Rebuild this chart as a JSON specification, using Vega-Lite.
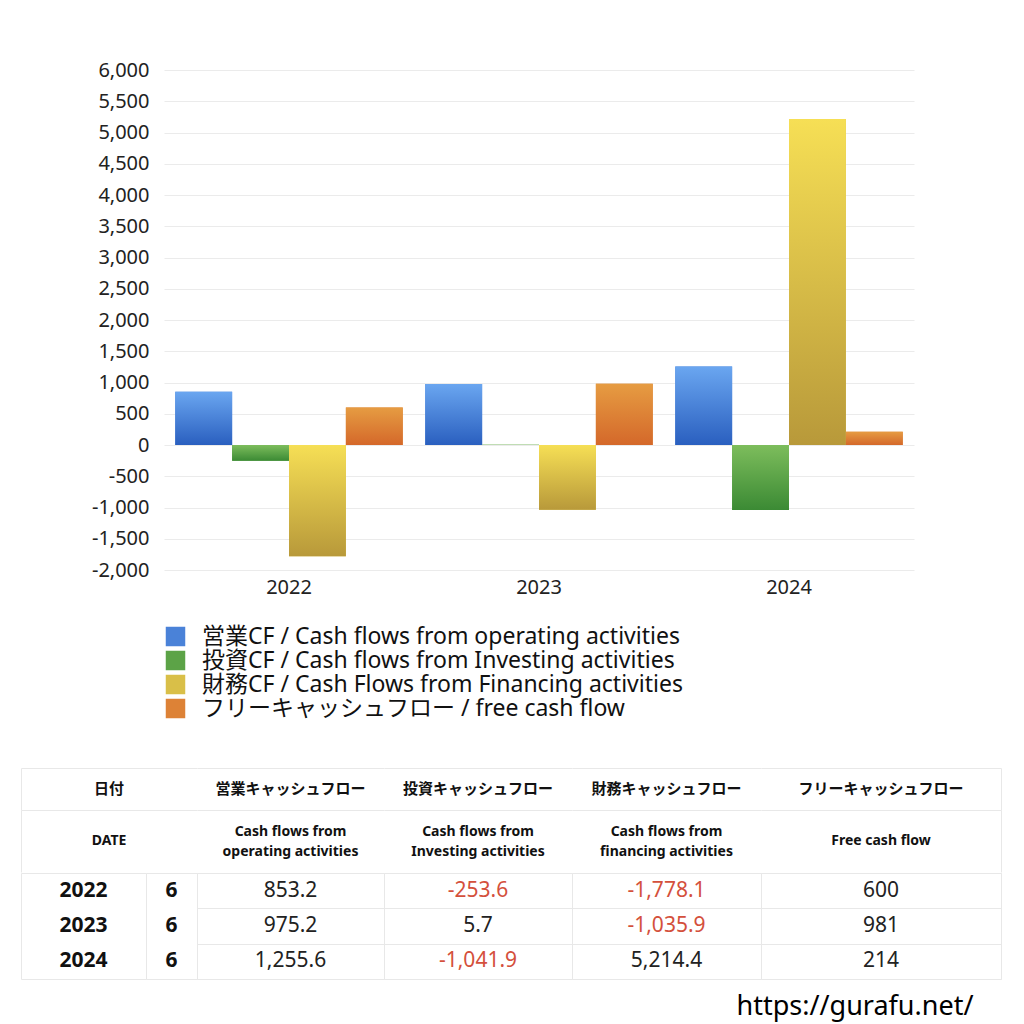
{
  "$schema": "https://vega.github.io/schema/vega-lite/v6.json",
  "padding": {"left": 20, "top": 60, "right": 20, "bottom": 10},
  "config": {
    "font": "Noto Sans, Noto Sans CJK JP",
    "view": {"stroke": null},
    "locale": {"number": {"decimal": ".", "thousands": ",", "grouping": [3], "currency": ["$", ""], "minus": "-"}}
  },
  "resolve": {"scale": {"color": "independent"}, "legend": {"color": "independent"}},
  "datasets": {
    "cf": [
      {"year": "2022", "month": 6, "key": "op", "series": "営業CF / Cash flows from operating activities", "value": 853.2},
      {"year": "2022", "month": 6, "key": "inv", "series": "投資CF / Cash flows from Investing activities", "value": -253.6},
      {"year": "2022", "month": 6, "key": "fin", "series": "財務CF / Cash Flows from Financing activities", "value": -1778.1},
      {"year": "2022", "month": 6, "key": "free", "series": "フリーキャッシュフロー / free cash flow", "value": 600},
      {"year": "2023", "month": 6, "key": "op", "series": "営業CF / Cash flows from operating activities", "value": 975.2},
      {"year": "2023", "month": 6, "key": "inv", "series": "投資CF / Cash flows from Investing activities", "value": 5.7},
      {"year": "2023", "month": 6, "key": "fin", "series": "財務CF / Cash Flows from Financing activities", "value": -1035.9},
      {"year": "2023", "month": 6, "key": "free", "series": "フリーキャッシュフロー / free cash flow", "value": 981},
      {"year": "2024", "month": 6, "key": "op", "series": "営業CF / Cash flows from operating activities", "value": 1255.6},
      {"year": "2024", "month": 6, "key": "inv", "series": "投資CF / Cash flows from Investing activities", "value": -1041.9},
      {"year": "2024", "month": 6, "key": "fin", "series": "財務CF / Cash Flows from Financing activities", "value": 5214.4},
      {"year": "2024", "month": 6, "key": "free", "series": "フリーキャッシュフロー / free cash flow", "value": 214}
    ],
    "hdr": [
      {"key": "date", "jp": "日付", "en": "DATE"},
      {"key": "op", "jp": "営業キャッシュフロー", "en": "Cash flows from\noperating activities"},
      {"key": "inv", "jp": "投資キャッシュフロー", "en": "Cash flows from\nInvesting activities"},
      {"key": "fin", "jp": "財務キャッシュフロー", "en": "Cash flows from\nfinancing activities"},
      {"key": "free", "jp": "フリーキャッシュフロー", "en": "Free cash flow"}
    ]
  },
  "title": {"text": "https://gurafu.net/", "orient": "bottom", "anchor": "end", "fontSize": 27, "fontWeight": "normal", "color": "#000", "offset": 14, "dx": -28},
  "spacing": 47,
  "vconcat": [
    {
      "spacing": 0,
      "resolve": {"scale": {"color": "independent"}, "legend": {"color": "independent"}},
      "hconcat": [
        {"width": 1, "height": 1, "data": {"values": []}, "mark": {"type": "point", "opacity": 0}},
        {
          "width": 750,
          "height": 500,
          "data": {"name": "cf"},
          "encoding": {
            "x": {"field": "year", "type": "nominal", "scale": {"paddingInner": 0.09, "paddingOuter": 0.045},
                  "axis": {"title": null, "labelAngle": 0, "domain": false, "ticks": false, "labelPadding": 7, "labelFontSize": 20, "labelColor": "#222"}},
            "xOffset": {"field": "series", "type": "nominal", "scale": {"paddingInner": 0, "paddingOuter": 0,
                  "domain": ["営業CF / Cash flows from operating activities", "投資CF / Cash flows from Investing activities", "財務CF / Cash Flows from Financing activities", "フリーキャッシュフロー / free cash flow"]}},
            "y": {"field": "value", "type": "quantitative", "scale": {"domain": [-2000, 6000], "nice": false},
                  "axis": {"title": null, "values": [-2000, -1500, -1000, -500, 0, 500, 1000, 1500, 2000, 2500, 3000, 3500, 4000, 4500, 5000, 5500, 6000],
                           "format": ",d", "domain": false, "ticks": false, "labelPadding": 15, "labelFontSize": 20, "labelColor": "#222",
                           "gridColor": "#ebebeb", "minExtent": 142, "maxExtent": 142}}
          },
          "layer": [
            {
              "mark": {"type": "bar"},
              "encoding": {
                "color": {"field": "series", "type": "nominal",
                  "scale": {
                    "domain": ["営業CF / Cash flows from operating activities", "投資CF / Cash flows from Investing activities", "財務CF / Cash Flows from Financing activities", "フリーキャッシュフロー / free cash flow"],
                    "range": ["#4a82d8", "#5ca347", "#d9bf48", "#dd8236"]
                  },
                  "legend": {"title": null, "orient": "bottom", "direction": "vertical", "symbolType": "square", "symbolSize": 380, "symbolStrokeWidth": 0,
                             "labelFontSize": 23, "labelColor": "#111", "labelLimit": 800, "labelOffset": 15, "rowPadding": 0, "offset": 28,
                             "encode": {"symbols": {"update": {"fill": [
                               {"test": "datum.value === '営業CF / Cash flows from operating activities'", "value": {"gradient": "linear", "x1": 0, "y1": 0, "x2": 0, "y2": 1, "stops": [{"offset": 0, "color": "#6aa6f0"}, {"offset": 1, "color": "#2a5fbf"}]}},
                               {"test": "datum.value === '投資CF / Cash flows from Investing activities'", "value": {"gradient": "linear", "x1": 0, "y1": 0, "x2": 0, "y2": 1, "stops": [{"offset": 0, "color": "#7dbd5c"}, {"offset": 1, "color": "#3b8a34"}]}},
                               {"test": "datum.value === '財務CF / Cash Flows from Financing activities'", "value": {"gradient": "linear", "x1": 0, "y1": 0, "x2": 0, "y2": 1, "stops": [{"offset": 0, "color": "#f6df55"}, {"offset": 1, "color": "#b8993a"}]}},
                               {"value": {"gradient": "linear", "x1": 0, "y1": 0, "x2": 0, "y2": 1, "stops": [{"offset": 0, "color": "#e69c42"}, {"offset": 1, "color": "#d4682a"}]}}
                             ]}}}}}
              }
            },
            {
              "transform": [{"filter": "datum.key == 'op'"}],
              "mark": {"type": "bar", "color": {"gradient": "linear", "x1": 0, "y1": 0, "x2": 0, "y2": 1, "stops": [{"offset": 0, "color": "#6aa6f0"}, {"offset": 1, "color": "#2a5fbf"}]}}
            },
            {
              "transform": [{"filter": "datum.key == 'inv'"}],
              "mark": {"type": "bar", "color": {"gradient": "linear", "x1": 0, "y1": 0, "x2": 0, "y2": 1, "stops": [{"offset": 0, "color": "#7dbd5c"}, {"offset": 1, "color": "#3b8a34"}]}}
            },
            {
              "transform": [{"filter": "datum.key == 'fin'"}],
              "mark": {"type": "bar", "color": {"gradient": "linear", "x1": 0, "y1": 0, "x2": 0, "y2": 1, "stops": [{"offset": 0, "color": "#f6df55"}, {"offset": 1, "color": "#b8993a"}]}}
            },
            {
              "transform": [{"filter": "datum.key == 'free'"}],
              "mark": {"type": "bar", "color": {"gradient": "linear", "x1": 0, "y1": 0, "x2": 0, "y2": 1, "stops": [{"offset": 0, "color": "#e69c42"}, {"offset": 1, "color": "#d4682a"}]}}
            }
          ]
        }
      ]
    },
    {
      "spacing": 0,
      "vconcat": [
        {
          "spacing": 0,
          "bounds": "flush",
          "hconcat": [
            {"width": 176, "height": 42, "view": {"stroke": null}, "data": {"name": "hdr"}, "transform": [{"filter": "datum.key == 'date'"}],
             "mark": {"type": "text", "fontSize": 15, "fontWeight": "bold", "color": "#111"},
             "encoding": {"text": {"field": "jp"},
               "x": {"field": "key", "type": "nominal", "axis": {"orient": "top", "title": null, "labels": false, "ticks": false, "grid": false, "domainColor": "#e8e8e8"}},
               "y": {"field": "key", "type": "nominal", "axis": {"orient": "left", "title": null, "labels": false, "ticks": false, "grid": false, "domainColor": "#e8e8e8", "minExtent": 0}}}},
            {"width": 187, "height": 42, "view": {"stroke": null}, "data": {"name": "hdr"}, "transform": [{"filter": "datum.key == 'op'"}],
             "mark": {"type": "text", "fontSize": 15, "fontWeight": "bold", "color": "#111"},
             "encoding": {"text": {"field": "jp"},
               "x": {"field": "key", "type": "nominal", "axis": {"orient": "top", "title": null, "labels": false, "ticks": false, "grid": false, "domainColor": "#e8e8e8"}}}},
            {"width": 188, "height": 42, "view": {"stroke": null}, "data": {"name": "hdr"}, "transform": [{"filter": "datum.key == 'inv'"}],
             "mark": {"type": "text", "fontSize": 15, "fontWeight": "bold", "color": "#111"},
             "encoding": {"text": {"field": "jp"},
               "x": {"field": "key", "type": "nominal", "axis": {"orient": "top", "title": null, "labels": false, "ticks": false, "grid": false, "domainColor": "#e8e8e8"}}}},
            {"width": 189, "height": 42, "view": {"stroke": null}, "data": {"name": "hdr"}, "transform": [{"filter": "datum.key == 'fin'"}],
             "mark": {"type": "text", "fontSize": 15, "fontWeight": "bold", "color": "#111"},
             "encoding": {"text": {"field": "jp"},
               "x": {"field": "key", "type": "nominal", "axis": {"orient": "top", "title": null, "labels": false, "ticks": false, "grid": false, "domainColor": "#e8e8e8"}}}},
            {"width": 240, "height": 42, "view": {"stroke": null}, "data": {"name": "hdr"}, "transform": [{"filter": "datum.key == 'free'"}],
             "mark": {"type": "text", "fontSize": 15, "fontWeight": "bold", "color": "#111"},
             "encoding": {"text": {"field": "jp"},
               "x": {"field": "key", "type": "nominal", "axis": {"orient": "top", "title": null, "labels": false, "ticks": false, "grid": false, "domainColor": "#e8e8e8"}},
               "y": {"field": "key", "type": "nominal", "axis": {"orient": "right", "title": null, "labels": false, "ticks": false, "grid": false, "domainColor": "#e8e8e8", "minExtent": 0}}}}
          ]
        },
        {
          "spacing": 0,
          "bounds": "flush",
          "hconcat": [
            {"width": 176, "height": 62, "view": {"stroke": null}, "data": {"name": "hdr"}, "transform": [{"filter": "datum.key == 'date'"}],
             "mark": {"type": "text", "fontSize": 14, "fontWeight": "bold", "color": "#111", "lineBreak": "\n", "lineHeight": 20},
             "encoding": {"text": {"field": "en"},
               "x": {"field": "key", "type": "nominal", "axis": {"orient": "top", "title": null, "labels": false, "ticks": false, "grid": false, "domainColor": "#e8e8e8"}},
               "y": {"field": "key", "type": "nominal", "axis": {"orient": "left", "title": null, "labels": false, "ticks": false, "grid": false, "domainColor": "#e8e8e8", "minExtent": 0}}}},
            {"width": 187, "height": 62, "view": {"stroke": null}, "data": {"name": "hdr"}, "transform": [{"filter": "datum.key == 'op'"}],
             "mark": {"type": "text", "fontSize": 14, "fontWeight": "bold", "color": "#111", "lineBreak": "\n", "lineHeight": 20, "dy": -9},
             "encoding": {"text": {"field": "en"},
               "x": {"field": "key", "type": "nominal", "axis": {"orient": "top", "title": null, "labels": false, "ticks": false, "grid": false, "domainColor": "#e8e8e8"}}}},
            {"width": 188, "height": 62, "view": {"stroke": null}, "data": {"name": "hdr"}, "transform": [{"filter": "datum.key == 'inv'"}],
             "mark": {"type": "text", "fontSize": 14, "fontWeight": "bold", "color": "#111", "lineBreak": "\n", "lineHeight": 20, "dy": -9},
             "encoding": {"text": {"field": "en"},
               "x": {"field": "key", "type": "nominal", "axis": {"orient": "top", "title": null, "labels": false, "ticks": false, "grid": false, "domainColor": "#e8e8e8"}}}},
            {"width": 189, "height": 62, "view": {"stroke": null}, "data": {"name": "hdr"}, "transform": [{"filter": "datum.key == 'fin'"}],
             "mark": {"type": "text", "fontSize": 14, "fontWeight": "bold", "color": "#111", "lineBreak": "\n", "lineHeight": 20, "dy": -9},
             "encoding": {"text": {"field": "en"},
               "x": {"field": "key", "type": "nominal", "axis": {"orient": "top", "title": null, "labels": false, "ticks": false, "grid": false, "domainColor": "#e8e8e8"}}}},
            {"width": 240, "height": 62, "view": {"stroke": null}, "data": {"name": "hdr"}, "transform": [{"filter": "datum.key == 'free'"}],
             "mark": {"type": "text", "fontSize": 14, "fontWeight": "bold", "color": "#111", "lineBreak": "\n", "lineHeight": 20},
             "encoding": {"text": {"field": "en"},
               "x": {"field": "key", "type": "nominal", "axis": {"orient": "top", "title": null, "labels": false, "ticks": false, "grid": false, "domainColor": "#e8e8e8"}},
               "y": {"field": "key", "type": "nominal", "axis": {"orient": "right", "title": null, "labels": false, "ticks": false, "grid": false, "domainColor": "#e8e8e8", "minExtent": 0}}}}
          ]
        },
        {
          "spacing": 0,
          "bounds": "flush",
          "hconcat": [
            {"width": 125, "height": 106, "view": {"stroke": "#e8e8e8"}, "data": {"name": "cf"}, "transform": [{"filter": "datum.key == 'op'"}],
             "mark": {"type": "text", "fontSize": 21, "fontWeight": "bold", "color": "#111"},
             "encoding": {"text": {"field": "year"},
               "y": {"field": "year", "type": "nominal", "scale": {"type": "band", "paddingInner": 0, "paddingOuter": 0}, "axis": null}}},
            {"width": 51, "height": 106, "view": {"stroke": "#e8e8e8"}, "data": {"name": "cf"}, "transform": [{"filter": "datum.key == 'op'"}],
             "mark": {"type": "text", "fontSize": 21, "fontWeight": "bold", "color": "#111"},
             "encoding": {"text": {"field": "month"},
               "y": {"field": "year", "type": "nominal", "scale": {"type": "band", "paddingInner": 0, "paddingOuter": 0}, "axis": null}}},
            {"width": 187, "height": 106, "view": {"stroke": "#e8e8e8"}, "data": {"name": "cf"}, "transform": [{"filter": "datum.key == 'op'"}],
             "mark": {"type": "text", "fontSize": 21},
             "encoding": {"text": {"field": "value", "type": "quantitative", "format": ",.1f"},
               "color": {"condition": {"test": "datum.value < 0", "value": "#d4503c"}, "value": "#222"},
               "y": {"field": "year", "type": "nominal", "scale": {"type": "band", "paddingInner": 0, "paddingOuter": 0},
                     "axis": {"title": null, "labels": false, "ticks": false, "domain": false, "grid": true, "gridColor": "#e8e8e8", "tickBand": "extent", "minExtent": 0}}}},
            {"width": 188, "height": 106, "view": {"stroke": "#e8e8e8"}, "data": {"name": "cf"}, "transform": [{"filter": "datum.key == 'inv'"}],
             "mark": {"type": "text", "fontSize": 21},
             "encoding": {"text": {"field": "value", "type": "quantitative", "format": ",.1f"},
               "color": {"condition": {"test": "datum.value < 0", "value": "#d4503c"}, "value": "#222"},
               "y": {"field": "year", "type": "nominal", "scale": {"type": "band", "paddingInner": 0, "paddingOuter": 0},
                     "axis": {"title": null, "labels": false, "ticks": false, "domain": false, "grid": true, "gridColor": "#e8e8e8", "tickBand": "extent", "minExtent": 0}}}},
            {"width": 189, "height": 106, "view": {"stroke": "#e8e8e8"}, "data": {"name": "cf"}, "transform": [{"filter": "datum.key == 'fin'"}],
             "mark": {"type": "text", "fontSize": 21},
             "encoding": {"text": {"field": "value", "type": "quantitative", "format": ",.1f"},
               "color": {"condition": {"test": "datum.value < 0", "value": "#d4503c"}, "value": "#222"},
               "y": {"field": "year", "type": "nominal", "scale": {"type": "band", "paddingInner": 0, "paddingOuter": 0},
                     "axis": {"title": null, "labels": false, "ticks": false, "domain": false, "grid": true, "gridColor": "#e8e8e8", "tickBand": "extent", "minExtent": 0}}}},
            {"width": 240, "height": 106, "view": {"stroke": "#e8e8e8"}, "data": {"name": "cf"}, "transform": [{"filter": "datum.key == 'free'"}],
             "mark": {"type": "text", "fontSize": 21},
             "encoding": {"text": {"field": "value", "type": "quantitative", "format": ",d"},
               "color": {"condition": {"test": "datum.value < 0", "value": "#d4503c"}, "value": "#222"},
               "y": {"field": "year", "type": "nominal", "scale": {"type": "band", "paddingInner": 0, "paddingOuter": 0},
                     "axis": {"title": null, "labels": false, "ticks": false, "domain": false, "grid": true, "gridColor": "#e8e8e8", "tickBand": "extent", "minExtent": 0}}}}
          ]
        }
      ]
    }
  ]
}
